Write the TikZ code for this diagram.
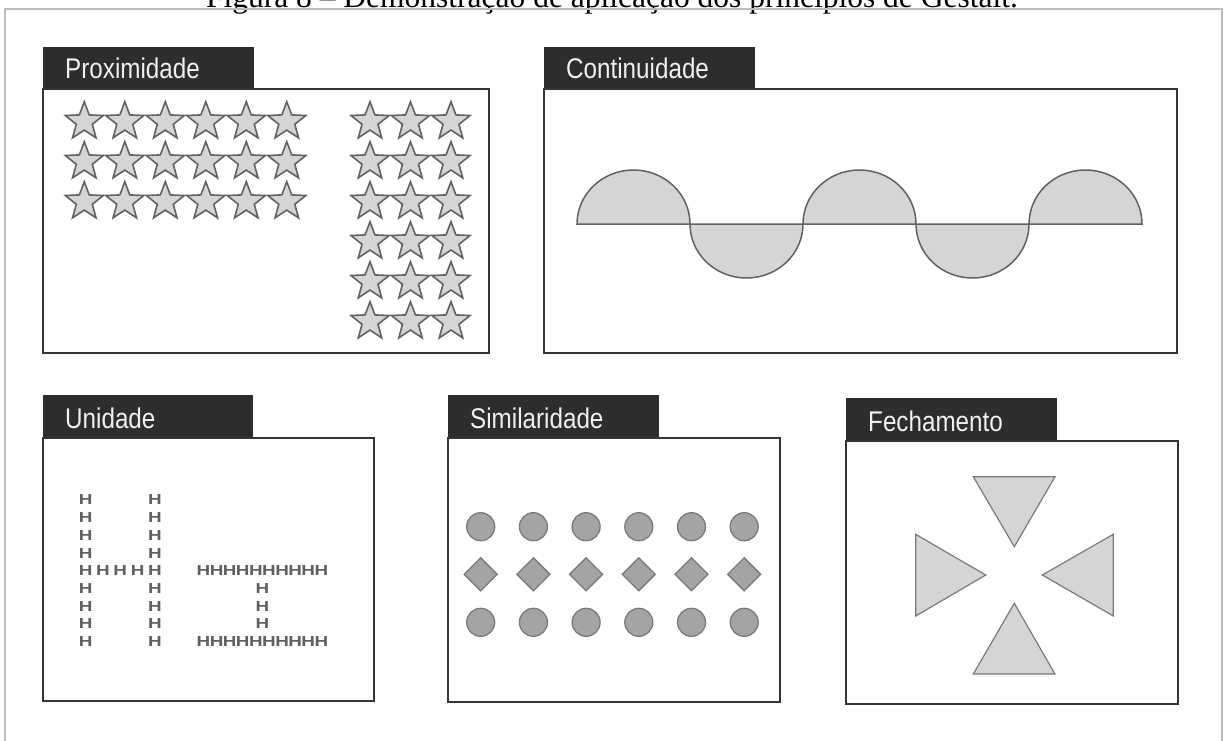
\documentclass[tikz,border=0pt]{standalone}
\usepackage{fontspec}
\setmainfont{Liberation Serif}
\setsansfont{Liberation Sans}
\newfontfamily\tabfont[FakeStretch=0.85]{Liberation Sans}
\newfontfamily\hfont[FakeStretch=1.3]{Liberation Sans}
\usetikzlibrary{positioning}
\definecolor{tabgray}{HTML}{2D2D2D}
\definecolor{boxline}{HTML}{353535}
\definecolor{framegray}{HTML}{BDBDBD}
\definecolor{shapeline}{HTML}{626262}
\definecolor{lightfill}{HTML}{D5D5D7}
\definecolor{midfill}{HTML}{A4A4A4}
\definecolor{hgray}{HTML}{606060}

\begin{document}
\begin{tikzpicture}[x=1pt,y=-1pt,
  tabfill/.style={fill=tabgray},
  panelbox/.style={draw=boxline,line width=2.4pt},
  tablabel/.style={anchor=base west,inner sep=0pt,text=white!94!black,font=\tabfont\fontsize{28.5}{30}\selectfont},
  starline/.style={fill=lightfill,draw=shapeline,line width=1.6pt,line join=miter},
  wavefill/.style={fill=lightfill,draw=shapeline,line width=1.5pt},
  simshape/.style={fill=midfill,draw=shapeline!85!white,line width=1.3pt},
  triangle/.style={fill=lightfill,draw=shapeline!85!white,line width=1.2pt},
  hletter/.style={inner sep=0pt,text=hgray,font=\hfont\bfseries\fontsize{14.5}{14.5}\selectfont},
  gstar/.pic={\path[starline] (-90:20) -- (-54:8.4) -- (-18:20) -- (18:8.4) -- (54:20) -- (90:8.4) -- (126:20) -- (162:8.4) -- (198:20) -- (234:8.4) -- cycle;}]
\useasboundingbox (0,0) rectangle (1224,740);
\node[anchor=base,inner sep=0pt,font=\fontsize{31.5}{34}\selectfont] (caption) at (612,7) {Figura 8 -- Demonstração de aplicação dos princípios de Gestalt.};
\draw[framegray,line width=1.6pt] (5,745) -- (5,9) -- (1222,9) -- (1222,745);

\fill[tabfill] (43,47) rectangle (254,90);
\draw[panelbox] (43,89) rectangle (489,353);
\node[tablabel] (prox) at (65,78) {Proximidade};
\foreach \i in {0,...,5}
  \foreach \j in {0,1,2}
    \pic at (84.3+40.5*\i,121.7+40*\j) {gstar};
\foreach \i in {0,1,2}
  \foreach \j in {0,...,5}
    \pic at (370+40.5*\i,121.7+40*\j) {gstar};

\fill[tabfill] (544,47) rectangle (755,90);
\draw[panelbox] (544,89) rectangle (1177,353);
\node[tablabel] (cont) at (566,78) {Continuidade};
\path[wavefill] (577,224)
  arc[start angle=180,end angle=360,x radius=56.5,y radius=54]
  arc[start angle=180,end angle=0,x radius=56.5,y radius=54]
  arc[start angle=180,end angle=360,x radius=56.5,y radius=54]
  arc[start angle=180,end angle=0,x radius=56.5,y radius=54]
  arc[start angle=180,end angle=360,x radius=56.5,y radius=54] -- cycle;

\fill[tabfill] (43,395) rectangle (253,439);
\draw[panelbox] (43,438) rectangle (374,701);
\node[tablabel] (unid) at (65,428) {Unidade};
\foreach \k in {0,...,8} {
  \node[hletter] (hl\k) at (85.7,500+17.7*\k) {H};
  \node[hletter] (hr\k) at (155,500+17.7*\k) {H};
}
\foreach \i in {1,2,3}
  \node[hletter] (hm\i) at (85.7+17.3*\i,570.8) {H};
\foreach \i in {0,...,9} {
  \node[hletter] (ht\i) at (203.5+13.1*\i,570.8) {H};
  \node[hletter] (hb\i) at (203.5+13.1*\i,641.6) {H};
}
\foreach \k in {1,2,3}
  \node[hletter] (hv\k) at (262.4,570.8+17.7*\k) {H};

\fill[tabfill] (448,395) rectangle (659,439);
\draw[panelbox] (448,438) rectangle (780,702);
\node[tablabel] (simi) at (470,428) {Similaridade};
\foreach \i in {0,...,5} {
  \path[simshape] (480.7+52.7*\i,526.7) circle (14);
  \path[simshape] (480.7+52.7*\i,622.3) circle (14);
  \path[simshape] (464.2+52.7*\i,574.3) -- ++(16.5,-16.5) -- ++(16.5,16.5) -- ++(-16.5,16.5) -- cycle;
}

\fill[tabfill] (846,398) rectangle (1057,442);
\draw[panelbox] (846,441) rectangle (1178,704);
\node[tablabel] (fech) at (868,431) {Fechamento};
\path[triangle] (973.3,476.7) -- (1055,476.7) -- (1014.3,546.7) -- cycle;
\path[triangle] (915.7,534.3) -- (915.7,616) -- (985.7,575) -- cycle;
\path[triangle] (1113.3,534.3) -- (1113.3,616) -- (1042.3,575) -- cycle;
\path[triangle] (1014.3,603.3) -- (973.3,674) -- (1055,674) -- cycle;
\end{tikzpicture}
\end{document}
